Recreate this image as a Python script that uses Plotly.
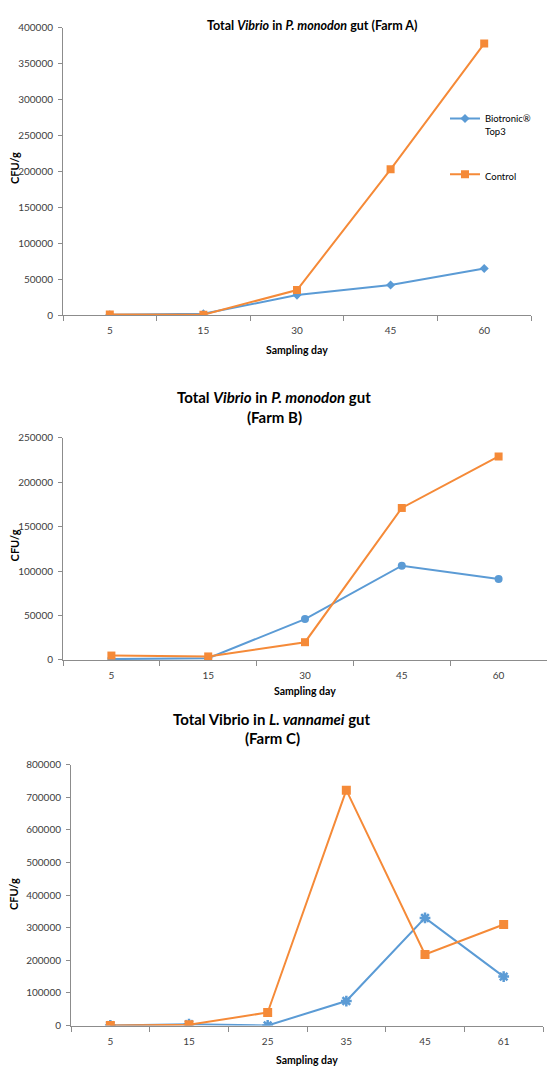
import plotly.graph_objects as go

# ---- data ----
days_a = ["5", "15", "30", "45", "60"]
a_bio = [500, 2000, 28000, 42000, 65000]
a_ctrl = [1000, 800, 35000, 203000, 378000]

days_b = ["5", "15", "30", "45", "60"]
b_bio = [1000, 2000, 46000, 106000, 91000]
b_ctrl = [5000, 4000, 20000, 171000, 229000]

days_c = ["5", "15", "25", "35", "45", "61"]
c_bio = [0, 4000, 0, 75000, 330000, 150000]
c_ctrl = [0, 2000, 40000, 722000, 218000, 310000]

series_names = ["Biotronic®<br>Top3", "Control"]

W, H = 547, 1073
BLUE = "#5B9BD5"
ORANGE = "#F58A38"
AXIS = "#8C8C8C"
TICKC = "#404040"
FONT = "Lato"


def px_x(p):
    return p / W


def px_y(p):
    return 1 - p / H


fig = go.Figure()

# panel A
fig.add_trace(go.Scatter(x=days_a, y=a_bio, name=series_names[0], mode="lines+markers",
                         line=dict(color=BLUE, width=2), marker=dict(symbol="diamond", size=7, color=BLUE),
                         xaxis="x", yaxis="y", legendgroup="g1"))
fig.add_trace(go.Scatter(x=days_a, y=a_ctrl, name=series_names[1], mode="lines+markers",
                         line=dict(color=ORANGE, width=2), marker=dict(symbol="square", size=8, color=ORANGE),
                         xaxis="x", yaxis="y", legendgroup="g2"))
# panel B
fig.add_trace(go.Scatter(x=days_b, y=b_bio, name=series_names[0], mode="lines+markers", showlegend=False,
                         line=dict(color=BLUE, width=2), marker=dict(symbol="circle", size=8, color=BLUE),
                         xaxis="x2", yaxis="y2"))
fig.add_trace(go.Scatter(x=days_b, y=b_ctrl, name=series_names[1], mode="lines+markers", showlegend=False,
                         line=dict(color=ORANGE, width=2), marker=dict(symbol="square", size=8, color=ORANGE),
                         xaxis="x2", yaxis="y2"))
# panel C
fig.add_trace(go.Scatter(x=days_c, y=c_bio, name=series_names[0], mode="lines+markers", showlegend=False,
                         line=dict(color=BLUE, width=2),
                         marker=dict(symbol="asterisk-open", size=9, color=BLUE, line=dict(color=BLUE, width=2.5)),
                         xaxis="x3", yaxis="y3"))
fig.add_trace(go.Scatter(x=days_c, y=c_ctrl, name=series_names[1], mode="lines+markers", showlegend=False,
                         line=dict(color=ORANGE, width=2), marker=dict(symbol="square", size=9, color=ORANGE),
                         xaxis="x3", yaxis="y3"))

xcommon = dict(type="category", tickson="boundaries", showline=True, linecolor=AXIS, linewidth=1,
               ticks="outside", ticklen=5, tickcolor=AXIS, showgrid=False, zeroline=False,
               tickfont=dict(family=FONT, size=10, color=TICKC), ticklabelstandoff=6, fixedrange=True)
ycommon = dict(showline=True, linecolor=AXIS, linewidth=1, ticks="outside", ticklen=4, tickcolor=AXIS,
               showgrid=False, zeroline=False, tickformat="d",
               tickfont=dict(family=FONT, size=10, color=TICKC), ticklabelstandoff=3, fixedrange=True)

panels = [
    # x0, x1, ytop, ybottom, ymax, dtick, ncat
    (63, 531, 21, 312, 400000, 50000, len(days_a)),
    (63, 547, 436, 661, 250000, 50000, len(days_b)),
    (71, 543, 767, 1031, 800000, 100000, len(days_c)),
]

for i, (x0, x1, yt, yb, ymax, dt, n) in enumerate(panels):
    sfx = "" if i == 0 else str(i + 1)
    fig.update_layout(**{
        "xaxis" + sfx: dict(xcommon, domain=[px_x(x0), px_x(x1)], anchor="y" + sfx, range=[-0.5, n - 0.5]),
        "yaxis" + sfx: dict(ycommon, domain=[px_y(yb), px_y(yt)], anchor="x" + sfx,
                            range=[0, ymax], dtick=dt, tick0=0),
    })

ann = []
titles = [
    ("<b>Total <i>Vibrio</i> in <i>P. monodon</i> gut (Farm A)</b>", 312, 19, 12.5),
    ("<b>Total <i>Vibrio</i> in <i>P. monodon</i> gut</b>", 274, 395, 15),
    ("<b>(Farm B)</b>", 274, 415, 15),
    ("<b>Total Vibrio in <i>L. vannamei</i> gut</b>", 272, 721, 15),
    ("<b>(Farm C)</b>", 272, 740, 15),
]
for t, x, y, s in titles:
    ann.append(dict(text=t, x=px_x(x), y=px_y(y), xref="paper", yref="paper", showarrow=False,
                    xanchor="center", yanchor="middle", font=dict(family=FONT, size=s, color="#000000")))

for x, y in [(297, 347), (305, 692), (307, 1066)]:
    ann.append(dict(text="<b>Sampling day</b>", x=px_x(x), y=px_y(y), xref="paper", yref="paper",
                    showarrow=False, xanchor="center", yanchor="middle",
                    font=dict(family=FONT, size=10.5, color="#000000")))

for x, y in [(14, 163), (14, 545), (13, 898)]:
    ann.append(dict(text="<b>CFU/g</b>", x=px_x(x), y=px_y(y), xref="paper", yref="paper",
                    showarrow=False, xanchor="center", yanchor="middle", textangle=-90,
                    font=dict(family=FONT, size=11, color="#000000")))

fig.update_layout(
    width=W, height=H, margin=dict(l=0, r=0, t=0, b=0),
    paper_bgcolor="white", plot_bgcolor="white",
    annotations=ann,
    showlegend=True,
    legend=dict(x=px_x(445), y=px_y(100), xanchor="left", yanchor="top",
                font=dict(family=FONT, size=9.5, color="#000000"), bgcolor="rgba(0,0,0,0)",
                tracegroupgap=28, valign="top", itemwidth=30, traceorder="grouped"),
)

fig.write_html("out.html")
